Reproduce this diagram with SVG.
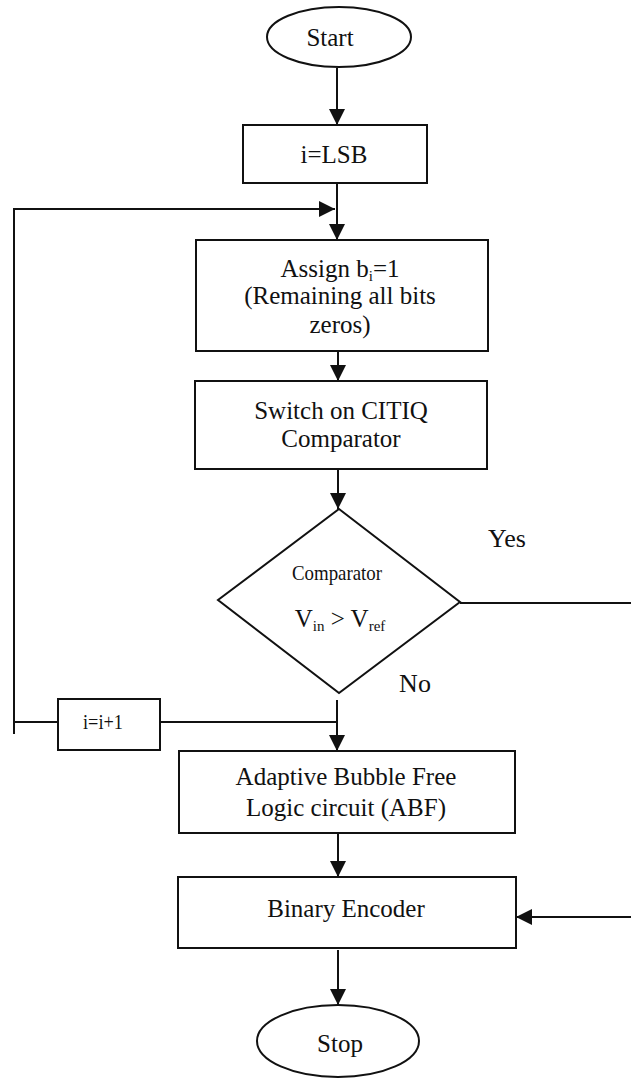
<svg xmlns="http://www.w3.org/2000/svg" width="631" height="1078" viewBox="0 0 631 1078">
<defs>
<marker id="ah" markerUnits="userSpaceOnUse" markerWidth="16" markerHeight="16" refX="16" refY="8" orient="auto">
<path d="M0,0 L16,8 L0,16 z" fill="#111"/>
</marker>
</defs>
<rect width="631" height="1078" fill="#fff"/>
<g id="connectors" fill="none" stroke="#111" stroke-width="2">
<path d="M337,68 V125" marker-end="url(#ah)"/>
<path d="M337,183 V240" marker-end="url(#ah)"/>
<path d="M14,734 V209 H335" marker-end="url(#ah)"/>
<path d="M338,340 V381" marker-end="url(#ah)"/>
<path d="M338,469 V509" marker-end="url(#ah)"/>
<path d="M460,603 H631"/>
<path d="M337,700 V751" marker-end="url(#ah)"/>
<path d="M58,722 H14"/>
<path d="M160,722 H337"/>
<path d="M338,833 V877" marker-end="url(#ah)"/>
<path d="M631,917 H516" marker-end="url(#ah)"/>
<path d="M338,950 V1005" marker-end="url(#ah)"/>
</g>
<g id="start">
<ellipse cx="339" cy="37" rx="72" ry="30" fill="#fff" stroke="#111" stroke-width="2"/>
<text font-family="Liberation Serif" font-size="25" fill="#111" text-anchor="middle" x="330" y="46">Start</text>
</g>
<g id="init">
<rect x="243" y="125" width="184" height="58" fill="#fff" stroke="#111" stroke-width="2"/>
<text font-family="Liberation Serif" font-size="25" fill="#111" text-anchor="middle" x="334" y="163">i=LSB</text>
</g>
<g id="assign">
<rect x="196" y="240" width="292" height="111" fill="#fff" stroke="#111" stroke-width="2"/>
<text font-family="Liberation Serif" font-size="25" fill="#111" text-anchor="middle" x="340" y="277">Assign b<tspan font-size="15" dy="4">i</tspan><tspan dy="-4">=1</tspan></text>
<text font-family="Liberation Serif" font-size="25" fill="#111" text-anchor="middle" x="340" y="304">(Remaining all bits</text>
<text font-family="Liberation Serif" font-size="25" fill="#111" text-anchor="middle" x="340" y="333">zeros)</text>
</g>
<g id="switch">
<rect x="195" y="381" width="292" height="88" fill="#fff" stroke="#111" stroke-width="2"/>
<text font-family="Liberation Serif" font-size="25" fill="#111" text-anchor="middle" x="341" y="419">Switch on CITIQ</text>
<text font-family="Liberation Serif" font-size="25" fill="#111" text-anchor="middle" x="341" y="447">Comparator</text>
</g>
<g id="decision">
<polygon points="339,509 460,602 339,693 218,600" fill="#fff" stroke="#111" stroke-width="2"/>
<text font-family="Liberation Serif" font-size="21" fill="#111" text-anchor="middle" x="337" y="580" textLength="90" lengthAdjust="spacingAndGlyphs">Comparator</text>
<text font-family="Liberation Serif" font-size="25" fill="#111" text-anchor="middle" x="340" y="627">V<tspan font-size="15" dy="4">in</tspan><tspan dy="-4"> &gt; V</tspan><tspan font-size="15" dy="4">ref</tspan></text>
</g>
<text font-family="Liberation Serif" font-size="26" fill="#111" text-anchor="middle" x="507" y="547">Yes</text>
<text font-family="Liberation Serif" font-size="26" fill="#111" text-anchor="middle" x="415" y="692">No</text>
<g id="increment">
<rect x="58" y="699" width="102" height="51" fill="#fff" stroke="#111" stroke-width="2"/>
<text font-family="Liberation Serif" font-size="20" fill="#111" text-anchor="middle" x="103" y="729" textLength="40" lengthAdjust="spacingAndGlyphs">i=i+1</text>
</g>
<g id="abf">
<rect x="179" y="751" width="336" height="82" fill="#fff" stroke="#111" stroke-width="2"/>
<text font-family="Liberation Serif" font-size="25" fill="#111" text-anchor="middle" x="346" y="785">Adaptive Bubble Free</text>
<text font-family="Liberation Serif" font-size="25" fill="#111" text-anchor="middle" x="346" y="816">Logic circuit (ABF)</text>
</g>
<g id="encoder">
<rect x="178" y="877" width="338" height="71" fill="#fff" stroke="#111" stroke-width="2"/>
<text font-family="Liberation Serif" font-size="25" fill="#111" text-anchor="middle" x="346" y="917">Binary Encoder</text>
</g>
<g id="stop">
<ellipse cx="338" cy="1041" rx="81" ry="36" fill="#fff" stroke="#111" stroke-width="2"/>
<text font-family="Liberation Serif" font-size="25" fill="#111" text-anchor="middle" x="340" y="1052">Stop</text>
</g>
</svg>
